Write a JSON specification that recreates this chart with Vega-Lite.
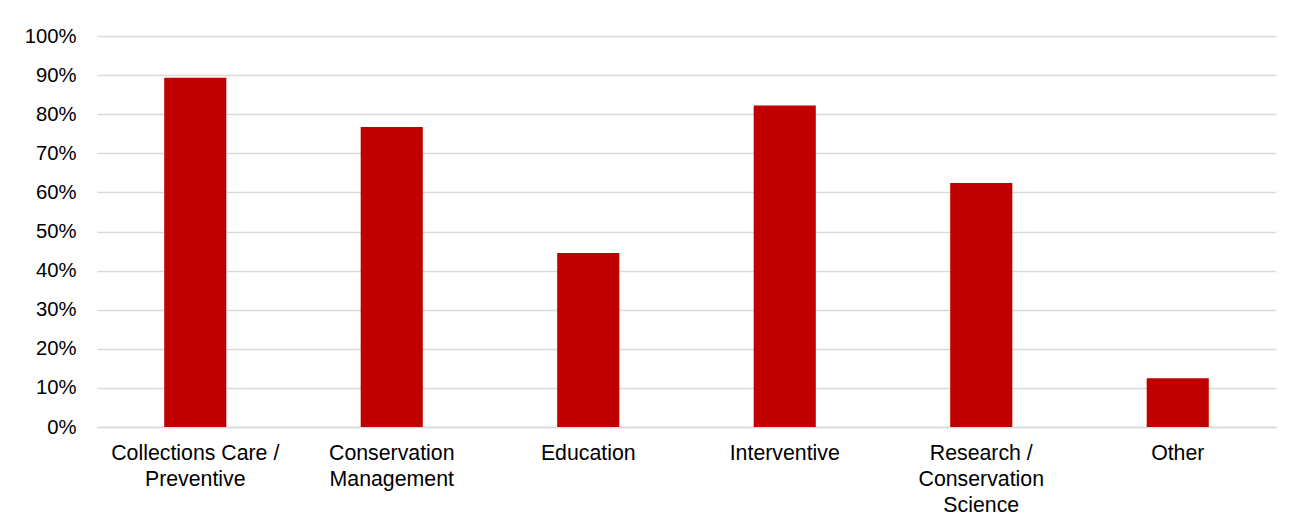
{
  "$schema": "https://vega.github.io/schema/vega-lite/v6.json",
  "width": 1179,
  "height": 391,
  "padding": {"left": 24, "top": 26, "right": 31, "bottom": 5},
  "background": "white",
  "data": {
    "values": [
      {"category": "Collections Care /|Preventive", "share": 0.893},
      {"category": "Conservation|Management", "share": 0.767},
      {"category": "Education", "share": 0.445},
      {"category": "Interventive", "share": 0.822},
      {"category": "Research /|Conservation|Science", "share": 0.624},
      {"category": "Other", "share": 0.125}
    ]
  },
  "mark": {"type": "bar", "color": "#C00000"},
  "encoding": {
    "x": {
      "field": "category",
      "type": "nominal",
      "sort": null,
      "scale": {"paddingInner": 0.684, "paddingOuter": 0.342},
      "axis": {
        "title": null,
        "labelAngle": 0,
        "labelExpr": "split(datum.label, '|')",
        "labelFont": "Liberation Sans",
        "labelFontSize": 21.3,
        "labelLineHeight": 26,
        "labelColor": "#000000",
        "labelPadding": 15,
        "ticks": false,
        "domainColor": "#D9D9D9",
        "domainWidth": 1.5,
        "labelLimit": 0
      }
    },
    "y": {
      "field": "share",
      "type": "quantitative",
      "scale": {"domain": [0, 1], "nice": false},
      "axis": {
        "title": null,
        "format": ".0%",
        "values": [0, 0.1, 0.2, 0.3, 0.4, 0.5, 0.6, 0.7, 0.8, 0.9, 1],
        "labelFont": "Liberation Sans",
        "labelFontSize": 20.3,
        "labelColor": "#000000",
        "labelPadding": 21,
        "ticks": false,
        "domain": false,
        "gridColor": "#D9D9D9",
        "gridWidth": 1.5
      }
    }
  },
  "config": {"view": {"stroke": null}}
}
